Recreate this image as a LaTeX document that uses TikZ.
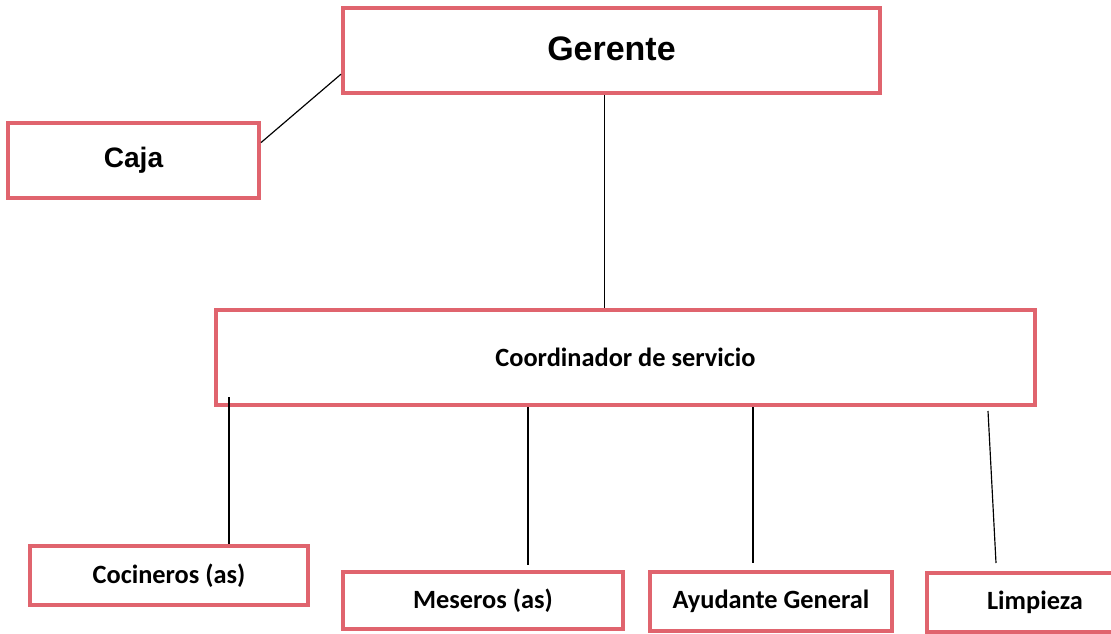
\documentclass[tikz,border=0pt]{standalone}
\usepackage{fontspec}
\setmainfont{Carlito}
\newfontfamily\arialfont{Liberation Sans}
\usepackage{tikz}
\definecolor{boxred}{RGB}{224,100,110}
\tikzstyle{cargo}=[draw=boxred,line width=3.4pt,rectangle,inner sep=0pt,font=\fontsize{22.5}{26}\selectfont\bfseries]
\tikzstyle{jefe}=[cargo,font=\arialfont\fontsize{29}{32}\selectfont\bfseries]

\begin{document}
\begin{tikzpicture}[x=0.03cm,y=-0.03cm]
\useasboundingbox (0,0) rectangle (1111,633);
\clip (0,0) rectangle (1111,633);
\node[jefe,minimum width=16.11cm,minimum height=2.55cm] (gerente) at (611.5,50.5) {\raisebox{4pt}{Gerente}};
\node[jefe,font=\arialfont\fontsize{24}{28}\selectfont\bfseries,minimum width=7.53cm,minimum height=2.25cm] (caja) at (133.5,160.5) {Caja};
\node[cargo,minimum width=24.57cm,minimum height=2.85cm] (coord) at (625.5,357.5) {Coordinador de servicio};
\node[cargo,minimum width=8.34cm,minimum height=1.77cm] (cocineros) at (169,575.5) {Cocineros (as)};
\node[cargo,minimum width=8.4cm,minimum height=1.71cm] (meseros) at (483,600.5) {Meseros (as)};
\node[cargo,minimum width=7.26cm,minimum height=1.77cm] (ayudante) at (771,601.5) {Ayudante General};
\node[cargo,minimum width=6.48cm,minimum height=1.77cm] (limpieza) at (1035,602.5) {Limpieza};
\draw[line width=1pt] (caja.8)--(gerente.185);
\coordinate (g) at ([xshift=-0.2cm]gerente.south);
\draw[line width=1pt] (g)--(g |- coord.north);
\coordinate (a1) at (229,397);
\draw[line width=1pt] (a1)--(a1 |- cocineros.north);
\coordinate (b1) at (528,565);
\draw[line width=1pt] (b1 |- coord.south)--(b1);
\coordinate (c1) at (753,563);
\draw[line width=1pt] (c1 |- coord.south)--(c1);
\coordinate (d0) at (988,411);
\coordinate (d1) at (996,563);
\draw[line width=1pt] (d0)--(d1);
\end{tikzpicture}
\end{document}
